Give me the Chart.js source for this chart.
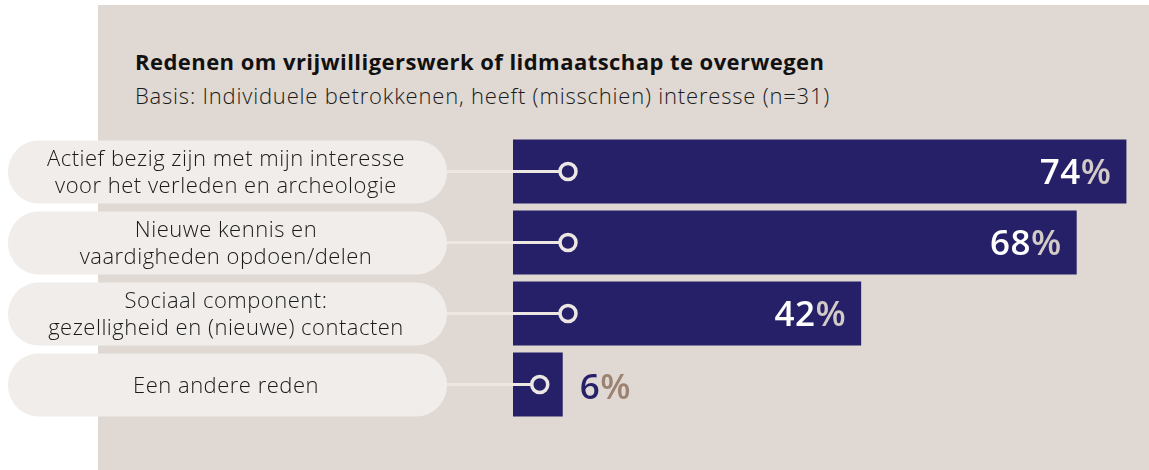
<!DOCTYPE html>
<html>
<head>
<meta charset="utf-8">
<script src="https://cdn.jsdelivr.net/npm/chart.js@4.4.1/dist/chart.umd.min.js"></script>
<style>
  body { margin: 0; background: #fff; }
  #wrap { position: relative; width: 1149px; height: 470px; overflow: hidden; }
  #panel { position: absolute; left: 98px; top: 5px; width: 1051px; height: 465px; background: #dfd8d3; }
  #title { position: absolute; left: 135px; top: 49.5px; font: bold 22px/22px "Open Sans", sans-serif; letter-spacing: 0.45px; color: #111; white-space: nowrap; }
  #sub { position: absolute; left: 135px; top: 83.5px; font: 300 22px/22px "Open Sans", sans-serif; letter-spacing: 0.8px; color: #1a1a1a; white-space: nowrap; }
  canvas { position: absolute; left: 0; top: 0; }
</style>
</head>
<body>
<div id="wrap">
  <div id="panel"></div>
  <div id="title">Redenen om vrijwilligerswerk of lidmaatschap te overwegen</div>
  <div id="sub">Basis: Individuele betrokkenen, heeft (misschien) interesse (n=31)</div>
  <canvas id="chart" width="1149" height="470"></canvas>
</div>
<script>
// categories (two lines each) and values in percent
let categories = [
    ['Actief bezig zijn met mijn interesse', 'voor het verleden en archeologie'],
    ['Nieuwe kennis en', 'vaardigheden opdoen/delen'],
    ['Sociaal component:', 'gezelligheid en (nieuwe) contacten'],
    ['Een andere reden']
];
let percentages = [74, 68, 42, 6];
let xMax = 76;

let navy = '#262069';
let pillColor = '#f0edea';
let lineColor = '#ece7e3';

// pills, connector lines, markers and value labels
let decorations = {
    id: 'decorations',
    beforeDatasetsDraw(chart) {
        let ctx = chart.ctx;
        let yScale = chart.scales.y;
        let xScale = chart.scales.x;
        let meta = chart.getDatasetMeta(0);
        ctx.save();
        for (let i = 0; i < categories.length; i++) {
            let y = yScale.getPixelForValue(i);
            let barEnd = meta.data[i].x;
            let dotX = Math.min(xScale.left + 55, barEnd - 23);
            // connector line
            ctx.strokeStyle = lineColor;
            ctx.lineWidth = 3;
            ctx.beginPath();
            ctx.moveTo(440, y);
            ctx.lineTo(dotX, y);
            ctx.stroke();
            // pill
            ctx.fillStyle = pillColor;
            ctx.beginPath();
            ctx.roundRect(8, y - 31, 439, 63, 31);
            ctx.fill();
            // label text
            ctx.fillStyle = '#1a1a1a';
            ctx.font = '300 22px "Open Sans", sans-serif';
            ctx.letterSpacing = '0.5px';
            ctx.textAlign = 'center';
            ctx.textBaseline = 'alphabetic';
            let lines = categories[i];
            let lineH = 27;
            lines.forEach((line, k) => {
                ctx.fillText(line, 226, y + 8 + (k - (lines.length - 1) / 2) * lineH);
            });
        }
        ctx.restore();
    },
    afterDatasetsDraw(chart) {
        let ctx = chart.ctx;
        let xScale = chart.scales.x;
        let meta = chart.getDatasetMeta(0);
        ctx.save();
        for (let i = 0; i < percentages.length; i++) {
            let bar = meta.data[i];
            let y = bar.y;
            let barEnd = bar.x;
            let dotX = Math.min(xScale.left + 55, barEnd - 23);
            // line segment over the bar
            ctx.strokeStyle = lineColor;
            ctx.lineWidth = 3;
            ctx.beginPath();
            ctx.moveTo(xScale.left, y);
            ctx.lineTo(dotX, y);
            ctx.stroke();
            // marker
            ctx.fillStyle = navy;
            ctx.lineWidth = 3.5;
            ctx.beginPath();
            ctx.arc(dotX, y, 8, 0, Math.PI * 2);
            ctx.fill();
            ctx.stroke();
            // value label
            ctx.font = '600 35px "Open Sans", sans-serif';
            ctx.letterSpacing = '0.5px';
            ctx.textBaseline = 'alphabetic';
            let num = String(percentages[i]);
            let pctW = ctx.measureText('%').width;
            let numW = ctx.measureText(num).width;
            let base = y + 12.5;
            if (percentages[i] > 15) {
                let right = barEnd - 15;
                ctx.textAlign = 'right';
                ctx.fillStyle = '#d2cbc6';
                ctx.fillText('%', right, base);
                ctx.fillStyle = '#ffffff';
                ctx.fillText(num, right - pctW, base);
            } else {
                let left = barEnd + 17;
                base = y + 14;
                ctx.textAlign = 'left';
                ctx.fillStyle = navy;
                ctx.fillText(num, left, base);
                ctx.fillStyle = '#9b8271';
                ctx.fillText('%', left + numW, base);
            }
        }
        ctx.restore();
    }
};

new Chart(document.getElementById('chart'), {
    type: 'bar',
    data: {
        labels: categories,
        datasets: [{
            data: percentages,
            backgroundColor: navy,
            borderWidth: 0,
            barPercentage: 0.9,
            categoryPercentage: 1
        }]
    },
    options: {
        indexAxis: 'y',
        responsive: false,
        animation: false,
        layout: { padding: { left: 513, right: 6, top: 136, bottom: 50 } },
        scales: {
            x: { display: false, min: 0, max: xMax },
            y: { display: false }
        },
        plugins: {
            legend: { display: false },
            tooltip: { enabled: false }
        }
    },
    plugins: [decorations]
});
</script>
</body>
</html>
